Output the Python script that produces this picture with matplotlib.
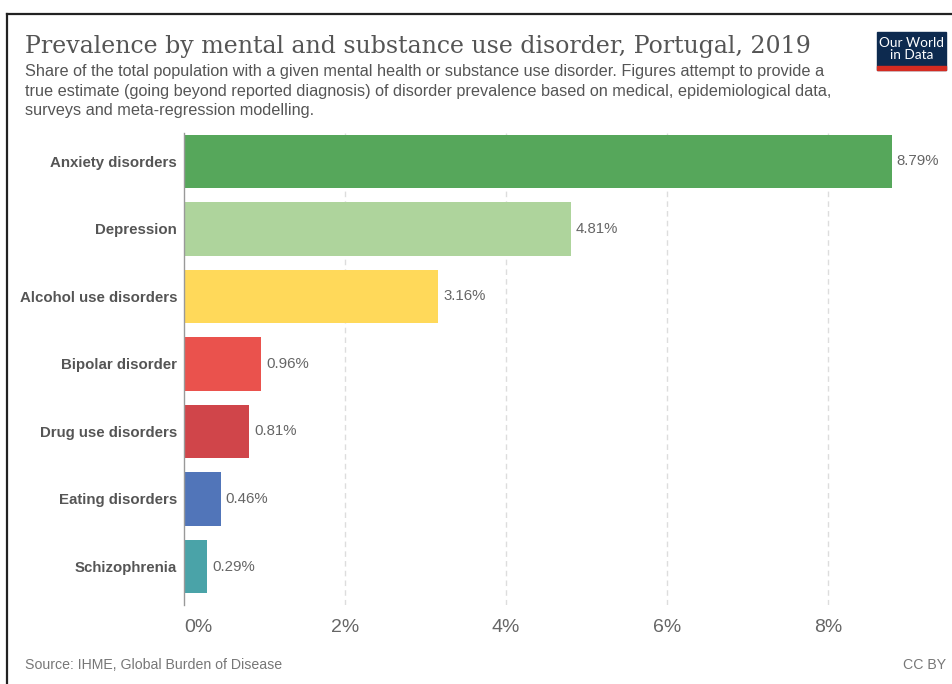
import matplotlib.pyplot as plt
from matplotlib.patches import Rectangle
from matplotlib.lines import Line2D

disorders = ["Anxiety disorders", "Depression", "Alcohol use disorders",
             "Bipolar disorder", "Drug use disorders", "Eating disorders",
             "Schizophrenia"]
prevalence = [8.79, 4.81, 3.16, 0.96, 0.81, 0.46, 0.29]
colors = ["#56a75b", "#aed49c", "#ffd95a", "#ea524d", "#d0454a", "#5175b9", "#4aa3a8"]
ticks = [0, 2, 4, 6, 8]

plt.rcParams["font.family"] = "Liberation Sans"

fig = plt.figure(figsize=(9.52, 6.84), dpi=100)
W, H = 952, 684

# outer frame (top and left edges visible)
fig.add_artist(Line2D([7 / W, 1], [1 - 14 / H, 1 - 14 / H], color="#222", lw=1.6))
fig.add_artist(Line2D([7 / W, 7 / W], [0, 1 - 14 / H], color="#222", lw=1.6))

ax = fig.add_axes([184 / W, 1 - 605 / H, 716.5 / W, 472 / H])
y = range(len(disorders))
ax.barh(y, prevalence, height=0.79, color=colors, edgecolor="none")
ax.set_xlim(0, 8.9)
ax.set_ylim(6.57, -0.42)

for s in ["top", "right", "bottom"]:
    ax.spines[s].set_visible(False)
ax.spines["left"].set_color("#999")
ax.spines["left"].set_linewidth(1)

ax.set_xticks(ticks)
ax.set_xticklabels([f"{t}%" for t in ticks], fontsize=14, color="#666")
ax.get_xticklabels()[0].set_ha("left")
ax.tick_params(axis="x", length=0, pad=10)
ax.set_yticks(list(y))
ax.set_yticklabels(disorders, fontsize=10.8, fontweight="bold", color="#555")
ax.tick_params(axis="y", length=0, pad=5)
for t in ticks[1:]:
    ax.axvline(t, color="#ddd", lw=1, ls=(0, (4, 3)), zorder=0)

for i, v in enumerate(prevalence):
    ax.text(v + 0.06, i, f"{v:.2f}%", va="center", ha="left", fontsize=10.8, color="#666")

# title and subtitle
fig.text(25 / W, 1 - 47 / H, "Prevalence by mental and substance use disorder, Portugal, 2019",
         family="DejaVu Serif", fontsize=17, color="#555", va="center")
subtitle = ("Share of the total population with a given mental health or substance use disorder. Figures attempt to provide a\n"
            "true estimate (going beyond reported diagnosis) of disorder prevalence based on medical, epidemiological data,\n"
            "surveys and meta-regression modelling.")
fig.text(25 / W, 1 - 64 / H, subtitle, fontsize=11.7, color="#555", va="top",
         linespacing=1.38)

# logo
fig.add_artist(Rectangle((877 / W, 1 - 70 / H), 69 / W, 38 / H, color="#0d2a4f",
                         transform=fig.transFigure))
fig.add_artist(Rectangle((877 / W, 1 - 70 / H), 69 / W, 4 / H, color="#d42b21",
                         transform=fig.transFigure))
fig.text(911.5 / W, 1 - 49 / H, "Our World\nin Data", color="white", fontsize=9.8,
         ha="center", va="center", linespacing=1.0, family="Lato")

# footer
fig.text(25 / W, 1 - 665 / H, "Source: IHME, Global Burden of Disease", fontsize=10.2,
         color="#777", va="center")
fig.text(946 / W, 1 - 665 / H, "CC BY", fontsize=10.2, color="#777", va="center",
         ha="right")

fig.savefig("out.png", dpi=100)
